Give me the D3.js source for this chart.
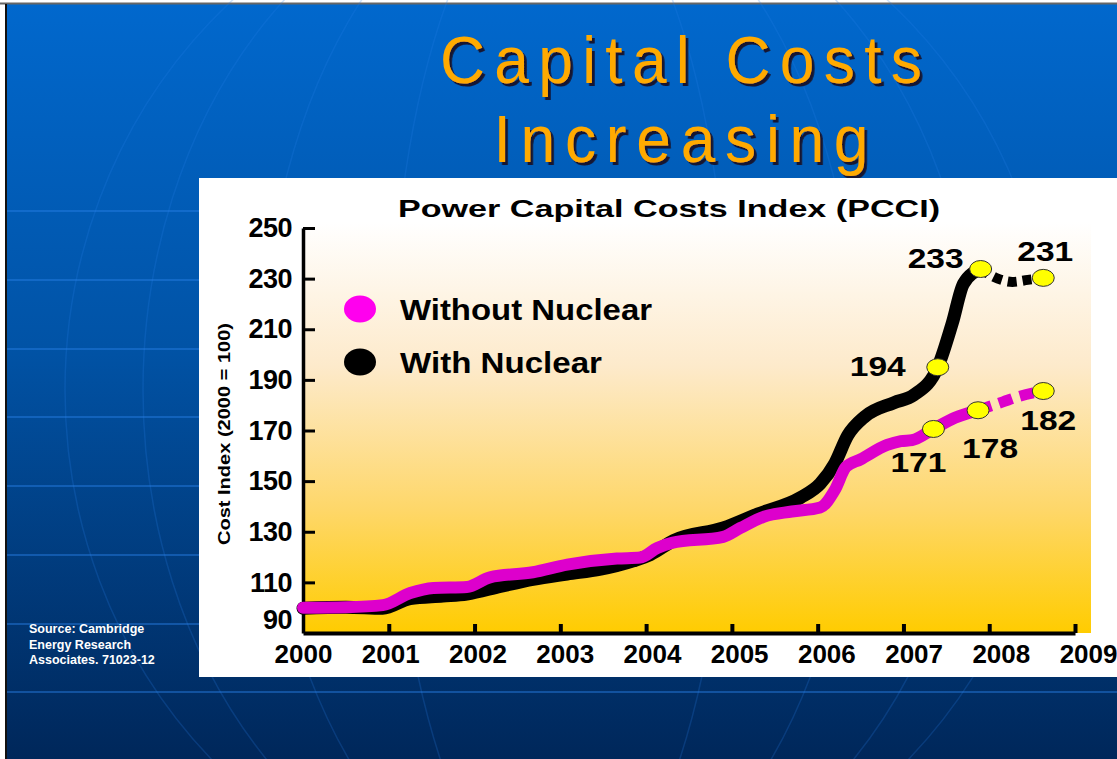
<!DOCTYPE html>
<html>
<head>
<meta charset="utf-8">
<script src="https://cdn.jsdelivr.net/npm/d3@7"></script>
<style>
  body { margin: 0; background: #fff; }
  svg { display: block; }
</style>
</head>
<body>
<svg id="slide" width="1117" height="759"></svg>
<script>
// ---- data ----
const titleLines = ["Capital Costs", "Increasing"];
const chartTitle = "Power Capital Costs Index (PCCI)";
const yLabel = "Cost Index (2000 = 100)";
const sourceLines = ["Source: Cambridge", "Energy Research", "Associates. 71023-12"];

const xTicks = [2000, 2001, 2002, 2003, 2004, 2005, 2006, 2007, 2008, 2009];
const yTicks = [90, 110, 130, 150, 170, 190, 210, 230, 250];

const seriesNames = ["Without Nuclear", "With Nuclear"];

// without nuclear (magenta)
const withoutX = [2000.0, 2000.5, 2000.93, 2001.25, 2001.52, 2001.91, 2002.18, 2002.68, 2003.08, 2003.66, 2003.93,
  2004.13, 2004.3, 2004.9, 2005.1, 2005.37, 2005.7, 2006.03, 2006.2, 2006.33, 2006.5, 2006.81, 2006.97, 2007.1,
  2007.35, 2007.6, 2007.87];
const withoutY = [100, 100.2, 101, 105.8, 107.8, 108.2, 112, 114, 117, 119.4, 119.8,
  123.6, 125.6, 128, 131.5, 135.9, 138, 139.6, 146.5, 155.6, 158.6, 164.3, 165.8, 166.2,
  170.6, 175, 178];
const withoutProjX = [2007.87, 2008.16, 2008.33, 2008.63];
const withoutProjY = [178, 181.3, 183.3, 185.6];

// with nuclear (black)
const withX = [2000.0, 2000.5, 2000.93, 2001.25, 2001.63, 2001.91, 2002.3, 2002.68, 2003.08, 2003.47, 2003.85,
  2004.05, 2004.32, 2004.9, 2005.3, 2005.8, 2006.03, 2006.2, 2006.35, 2006.55, 2006.89, 2007.12,
  2007.4, 2007.57, 2007.7, 2007.9];
const withY = [99.8, 100.2, 99.8, 103.6, 104.6, 105.4, 108.4, 111.2, 113.3, 115.2, 118.5,
  121, 126.5, 131.5, 137, 143.5, 149, 157, 168, 175.5, 181, 184,
  195, 212.5, 228, 233.8];
const withProjX = [2007.9, 2008.1, 2008.27, 2008.45, 2008.63];
const withProjY = [233.8, 230, 228.7, 229.5, 230.3];

// highlighted points and the numbers printed next to them
const markX = [2007.35, 2007.87, 2008.63, 2007.4, 2007.9, 2008.63];
const markY = [170.6, 178, 185.6, 195, 233.8, 230.3];
const markText = ["171", "178", "182", "194", "233", "231"];
// label offsets from the marker (layout only)
const markOffset = [[-15, 43], [12, 48], [5, 39], [-60, 9], [-45, -1], [2, -17]];

// ---- drawing ----
const svg = d3.select("#slide");
const W = 1117, H = 759;
const defs = svg.append("defs");

const bg = defs.append("linearGradient").attr("id", "bg").attr("x1", 0).attr("y1", 0).attr("x2", 0).attr("y2", 1);
bg.append("stop").attr("offset", 0).attr("stop-color", "#0168cd");
bg.append("stop").attr("offset", 0.45).attr("stop-color", "#0153a6");
bg.append("stop").attr("offset", 1).attr("stop-color", "#00275a");

const plotBg = defs.append("linearGradient").attr("id", "plotbg").attr("x1", 0).attr("y1", 0).attr("x2", 0).attr("y2", 1);
plotBg.append("stop").attr("offset", 0).attr("stop-color", "#ffffff");
plotBg.append("stop").attr("offset", 0.35).attr("stop-color", "#fdeacb");
plotBg.append("stop").attr("offset", 0.7).attr("stop-color", "#fed769");
plotBg.append("stop").attr("offset", 1).attr("stop-color", "#ffcc00");

const shadow = defs.append("filter").attr("id", "shadow").attr("x", "-10%").attr("y", "-20%")
  .attr("width", "130%").attr("height", "150%");
shadow.append("feDropShadow").attr("dx", 3).attr("dy", 3).attr("stdDeviation", 0.4)
  .attr("flood-color", "#141433").attr("flood-opacity", 1);

// slide background
svg.append("rect").attr("x", 0).attr("y", 0).attr("width", W).attr("height", H).attr("fill", "#fff");
svg.append("rect").attr("x", 6).attr("y", 4).attr("width", W - 6).attr("height", H - 4).attr("fill", "url(#bg)");
svg.append("line").attr("x1", 0).attr("x2", W).attr("y1", 3.5).attr("y2", 3.5).attr("stroke", "#666").attr("stroke-width", 2);
svg.append("line").attr("x1", 6).attr("x2", 6).attr("y1", 4).attr("y2", H).attr("stroke", "#111").attr("stroke-width", 2);

// globe-like decoration
const deco = svg.append("g").attr("fill", "none").attr("stroke", "#2a80e6");
[211, 280, 349, 417, 486, 555, 624, 692].forEach(yy => {
  deco.append("line").attr("x1", 7).attr("x2", W).attr("y1", yy).attr("y2", yy)
    .attr("stroke-opacity", 0.6).attr("stroke-width", 1.5);
});
[495, 417, 300, 170].forEach(rx => {
  deco.append("ellipse").attr("cx", 560).attr("cy", 390).attr("rx", rx).attr("ry", 520)
    .attr("stroke-opacity", 0.22).attr("stroke-width", 1.5);
});

// slide title with shadow (slightly narrow glyphs, a little spaced out)
const titleY = [83, 162];
const titleW = [482, 375];
const squeeze = 0.93;
titleLines.forEach((t, i) => {
  svg.append("text")
    .attr("transform", `translate(681,${titleY[i]}) scale(${squeeze},1)`)
    .attr("text-anchor", "middle")
    .attr("font-family", "'Liberation Sans', Arial, sans-serif")
    .attr("font-size", 67)
    .attr("textLength", titleW[i] / squeeze)
    .attr("lengthAdjust", "spacing")
    .attr("fill", "#ffaa00")
    .attr("filter", "url(#shadow)")
    .text(t);
});

// source note
sourceLines.forEach((t, i) => {
  svg.append("text").attr("x", 29).attr("y", 633 + i * 15.5)
    .attr("font-family", "'Liberation Sans', Arial, sans-serif").attr("font-weight", "bold")
    .attr("font-size", 12.5).attr("fill", "#fff").text(t);
});

// chart panel
svg.append("rect").attr("x", 199).attr("y", 178).attr("width", W - 199).attr("height", 499).attr("fill", "#fff");

const x = d3.scaleLinear().domain([2000, 2009]).range([303, 1075]);
const y = d3.scaleLinear().domain([90, 250]).range([633, 228]);

svg.append("rect").attr("x", x(2000)).attr("y", 222).attr("width", 1091 - x(2000)).attr("height", y(90) - 222)
  .attr("fill", "url(#plotbg)");

const font = "'Liberation Sans', Arial, sans-serif";

svg.append("text").attr("x", 669).attr("y", 217).attr("text-anchor", "middle")
  .attr("font-family", font).attr("font-weight", "bold").attr("font-size", 24)
  .attr("textLength", 542).attr("lengthAdjust", "spacingAndGlyphs").text(chartTitle);

svg.append("text").attr("transform", "translate(230,434) rotate(-90)").attr("text-anchor", "middle")
  .attr("font-family", font).attr("font-weight", "bold").attr("font-size", 16)
  .attr("textLength", 222).attr("lengthAdjust", "spacingAndGlyphs").text(yLabel);

// axes
const yAxis = svg.append("g").attr("transform", `translate(${x(2000)},0)`)
  .call(d3.axisLeft(y).tickValues(yTicks).tickSizeInner(-12).tickSizeOuter(0).tickPadding(11));
yAxis.select(".domain").attr("stroke", "#000").attr("stroke-width", 3.5);
yAxis.selectAll(".tick line").attr("stroke", "#000").attr("stroke-width", 3);
yAxis.selectAll(".tick text").attr("font-family", font).attr("font-weight", "bold").attr("font-size", 27)
  .attr("letter-spacing", -0.5).attr("fill", "#000");
yAxis.selectAll(".tick").filter(d => d === 90).attr("transform", `translate(0,${y(90) - 13})`)
  .select("line").remove();

const xAxis = svg.append("g").attr("transform", `translate(0,${y(90)})`)
  .call(d3.axisBottom(x).tickValues(xTicks).tickFormat(d3.format("d")).tickSizeInner(-9).tickSizeOuter(0).tickPadding(10));
xAxis.select(".domain").attr("stroke", "#000").attr("stroke-width", 4);
xAxis.selectAll(".tick line").attr("stroke", "#000").attr("stroke-width", 4);
xAxis.selectAll(".tick text").attr("font-family", font).attr("font-weight", "bold").attr("font-size", 26)
  .attr("fill", "#000").attr("dy", "0.78em")
  .attr("dx", (d, i) => i * 1.45); // labels drift right of their ticks in the original
xAxis.selectAll(".tick").filter(d => d === 2000).select("line").remove();

// lines
const line = d3.line().x(d => x(d[0])).y(d => y(d[1])).curve(d3.curveMonotoneX);
const zip = (a, b) => a.map((v, i) => [v, b[i]]);

const plot = svg.append("g").attr("fill", "none");
plot.append("path").datum(zip(withX, withY)).attr("d", line)
  .attr("stroke", "#000").attr("stroke-width", 13).attr("stroke-linecap", "round").attr("stroke-linejoin", "round");
plot.append("path").datum(zip(withProjX, withProjY)).attr("d", line)
  .attr("stroke", "#000").attr("stroke-width", 10).attr("stroke-dasharray", "9,6");
plot.append("path").datum(zip(withoutX, withoutY)).attr("d", line)
  .attr("stroke", "#dd00cc").attr("stroke-width", 12).attr("stroke-linecap", "round").attr("stroke-linejoin", "round");
plot.append("path").datum(zip(withoutProjX, withoutProjY)).attr("d", line)
  .attr("stroke", "#dd00cc").attr("stroke-width", 11).attr("stroke-dasharray", "14,8");

// markers
svg.append("g").selectAll("ellipse").data(markX).join("ellipse")
  .attr("cx", d => x(d)).attr("cy", (d, i) => y(markY[i]))
  .attr("rx", 11).attr("ry", 8.5)
  .attr("fill", "#ffff00").attr("stroke", "#333").attr("stroke-width", 1);

svg.append("g").selectAll("text").data(markText).join("text")
  .attr("x", (d, i) => x(markX[i]) + markOffset[i][0])
  .attr("y", (d, i) => y(markY[i]) + markOffset[i][1])
  .attr("text-anchor", "middle")
  .attr("font-family", font).attr("font-weight", "bold").attr("font-size", 28)
  .attr("textLength", 56).attr("lengthAdjust", "spacingAndGlyphs")
  .text(d => d);

// legend
const legendColors = ["#ff00ee", "#000"];
const legend = svg.append("g");
seriesNames.forEach((name, i) => {
  legend.append("ellipse").attr("cx", 360).attr("cy", 309 + i * 53).attr("rx", 16).attr("ry", 13.5)
    .attr("fill", legendColors[i]);
  legend.append("text").attr("x", 400).attr("y", 320 + i * 53)
    .attr("font-family", font).attr("font-weight", "bold").attr("font-size", 29)
    .attr("textLength", i === 0 ? 252 : 202).attr("lengthAdjust", "spacingAndGlyphs")
    .text(name);
});
</script>
</body>
</html>
